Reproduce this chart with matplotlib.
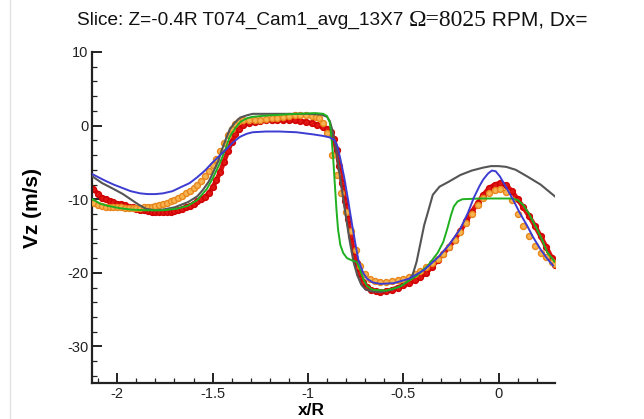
import numpy as np
import matplotlib
matplotlib.use("Agg")
import matplotlib.pyplot as plt
from matplotlib.ticker import MultipleLocator, FormatStrFormatter
from matplotlib.lines import Line2D

plt.rcParams['font.family'] = ['Liberation Sans', 'DejaVu Sans']
plt.rcParams['axes.unicode_minus'] = False

# ---- data ----
gray_x = [-2.13, -2.08, -2.02, -1.97, -1.93, -1.89, -1.85, -1.80, -1.76, -1.70, -1.63, -1.58, -1.55,
          -1.52, -1.50, -1.47, -1.45, -1.43, -1.41, -1.38, -1.355, -1.32, -1.29, -1.20, -1.10, -1.00,
          -0.93, -0.90, -0.885, -0.87, -0.855, -0.84, -0.82, -0.80, -0.78, -0.76, -0.74, -0.72, -0.70,
          -0.67, -0.62, -0.56, -0.50, -0.47, -0.45, -0.43, -0.41, -0.39, -0.37, -0.345, -0.31, -0.26,
          -0.20, -0.14, -0.08, -0.04, 0.00, 0.04, 0.09, 0.15, 0.22, 0.295]
gray_y = [-6.9, -7.8, -8.6, -9.3, -10.0, -10.7, -11.3, -11.5, -11.4, -11.1, -10.4, -9.6, -8.7,
          -7.6, -6.5, -4.8, -3.2, -1.8, -0.5, 0.5, 1.1, 1.4, 1.6, 1.6, 1.6, 1.6,
          1.5, 1.2, 0.6, -0.8, -2.8, -5.5, -9.0, -12.5, -15.8, -18.6, -20.4, -21.6, -22.2,
          -22.5, -22.6, -22.3, -21.6, -21.0, -20.2, -18.5, -16.0, -13.5, -11.7, -9.4, -8.3, -7.6,
          -6.7, -6.1, -5.7, -5.5, -5.5, -5.6, -6.0, -6.9, -8.0, -9.6]

blue_x = [-2.13, -2.07, -2.02, -1.97, -1.93, -1.88, -1.84, -1.80, -1.76, -1.71, -1.67, -1.62, -1.58,
          -1.54, -1.50, -1.46, -1.42, -1.39, -1.355, -1.32, -1.29, -1.22, -1.15, -1.06, -0.97, -0.92,
          -0.885, -0.86, -0.845, -0.83, -0.81, -0.79, -0.77, -0.75, -0.735, -0.71, -0.69, -0.66, -0.62,
          -0.55, -0.47, -0.39, -0.31, -0.26, -0.20, -0.16, -0.13, -0.10, -0.08, -0.055, -0.035, -0.015,
          0.007, 0.04, 0.075, 0.11, 0.15, 0.18, 0.22, 0.25, 0.285]
blue_y = [-6.6, -7.4, -8.0, -8.5, -8.9, -9.2, -9.3, -9.3, -9.2, -8.9, -8.4, -7.8, -7.0,
          -6.1, -5.0, -4.0, -3.0, -2.2, -1.5, -1.1, -0.9, -0.8, -0.8, -0.9, -1.2, -1.4,
          -1.6, -2.0, -2.8, -4.5, -7.0, -10.0, -13.2, -16.2, -18.3, -20.0, -20.8, -21.3, -21.5,
          -21.4, -20.8, -19.6, -17.7, -16.2, -14.0, -11.8, -9.8, -8.2, -7.3, -6.5, -6.1, -6.2,
          -6.9, -8.4, -10.0, -11.8, -13.6, -15.1, -16.8, -17.9, -19.0]

green_x = [-2.13, -2.09, -2.05, -1.99, -1.93, -1.85, -1.76, -1.69, -1.63, -1.58, -1.53, -1.50, -1.46,
           -1.43, -1.41, -1.38, -1.355, -1.32, -1.29, -1.20, -1.06, -0.96, -0.92, -0.90, -0.885, -0.875,
           -0.868, -0.86, -0.85, -0.842, -0.83, -0.815, -0.795, -0.77, -0.745, -0.73, -0.71, -0.69, -0.66,
           -0.59, -0.52, -0.43, -0.37, -0.32, -0.29, -0.27, -0.25, -0.235, -0.215, -0.19, -0.10, 0.00,
           0.07, 0.10, 0.13, 0.16, 0.20, 0.23, 0.255, 0.295]
green_y = [-10.0, -10.6, -10.9, -11.2, -11.4, -11.5, -11.5, -11.3, -10.9, -10.1, -8.6, -7.2, -5.0,
           -3.0, -1.5, -0.3, 0.5, 1.0, 1.2, 1.4, 1.6, 1.7, 1.6, 1.3, 0.4, -2.0,
           -4.2, -7.5, -11.5, -14.1, -16.2, -17.3, -18.0, -18.3, -18.5, -19.3, -20.8, -21.8, -22.3,
           -22.4, -21.9, -20.4, -19.0, -17.3, -15.8, -14.1, -12.2, -11.0, -10.3, -10.0, -9.9, -9.9,
           -9.9, -10.1, -10.8, -12.0, -14.0, -15.6, -17.2, -18.5]

red_x = [-2.125, -2.10, -2.08, -2.06, -2.04, -2.02, -2.00, -1.98, -1.96, -1.94, -1.92, -1.90, -1.88,
         -1.86, -1.84, -1.82, -1.80, -1.78, -1.76, -1.74, -1.72, -1.70, -1.68, -1.66, -1.64, -1.62,
         -1.60, -1.58, -1.56, -1.54, -1.52, -1.50, -1.48, -1.46, -1.44, -1.42, -1.40, -1.38, -1.36,
         -1.34, -1.31, -1.28, -1.25, -1.22, -1.19, -1.16, -1.13, -1.10, -1.07, -1.04, -1.01, -0.98,
         -0.95, -0.92, -0.90, -0.88, -0.865, -0.85, -0.835, -0.82, -0.805, -0.79, -0.775, -0.76, -0.745,
         -0.73, -0.71, -0.69, -0.67, -0.645, -0.62, -0.59, -0.56, -0.53, -0.50, -0.47, -0.44, -0.41,
         -0.38, -0.35, -0.32, -0.29, -0.26, -0.23, -0.20, -0.17, -0.14, -0.11, -0.08, -0.05, -0.02,
         0.01, 0.04, 0.07, 0.10, 0.13, 0.16, 0.19, 0.22, 0.25, 0.28, 0.295]
red_y = [-8.6, -9.3, -9.8, -10.0, -10.3, -10.4, -10.6, -10.7, -10.8, -11.0, -11.1, -11.3, -11.4,
         -11.5, -11.6, -11.7, -11.7, -11.7, -11.7, -11.7, -11.7, -11.6, -11.5, -11.3, -11.1, -10.9,
         -10.6, -10.3, -10.0, -9.7, -9.2, -8.4, -7.4, -6.3, -4.9, -3.5, -2.2, -1.2, -0.4,
         0.1, 0.4, 0.5, 0.6, 0.7, 0.8, 0.8, 0.8, 0.8, 0.7, 0.6, 0.5, 0.3,
         0.1, -0.2, -0.4, -0.9, -1.8, -3.3, -5.5, -7.8, -10.2, -12.7, -15.0, -17.0, -18.7,
         -20.0, -21.2, -21.9, -22.3, -22.5, -22.6, -22.5, -22.3, -22.0, -21.7, -21.4, -21.0, -20.6,
         -20.0, -19.2, -18.3, -17.4, -16.5, -15.5, -14.3, -13.0, -11.7, -10.5, -9.4, -8.5, -8.0,
         -7.8, -8.1, -8.9, -10.0, -11.1, -12.3, -13.6, -15.0, -16.5, -18.0, -18.9]

orange_x = [-2.12, -2.10, -2.08, -2.06, -2.04, -2.02, -2.00, -1.98, -1.96, -1.94, -1.92, -1.90, -1.88,
            -1.86, -1.84, -1.82, -1.80, -1.78, -1.76, -1.74, -1.72, -1.70, -1.68, -1.66, -1.64, -1.62,
            -1.60, -1.58, -1.56, -1.54, -1.52, -1.50, -1.48, -1.46, -1.44, -1.42, -1.40, -1.38, -1.36,
            -1.34, -1.31, -1.28, -1.25, -1.22, -1.19, -1.16, -1.13, -1.10, -1.07, -1.04, -1.01, -0.98,
            -0.96, -0.94, -0.92, -0.90, -0.875, -0.85, -0.825, -0.80, -0.775, -0.75, -0.725, -0.70, -0.675,
            -0.65, -0.62, -0.59, -0.56, -0.53, -0.50, -0.47, -0.44, -0.41, -0.38, -0.35, -0.32, -0.29,
            -0.26, -0.23, -0.20, -0.17, -0.14, -0.11, -0.08, -0.05, -0.02, 0.01, 0.04, 0.07, 0.10,
            0.13, 0.16, 0.19, 0.22, 0.25, 0.28, 0.295]
orange_y = [-10.5, -10.8, -10.9, -11.0, -11.0, -11.0, -11.1, -11.1, -11.2, -11.2, -11.2, -11.2, -11.2,
            -11.1, -11.1, -11.0, -10.9, -10.8, -10.7, -10.5, -10.3, -10.1, -9.8, -9.5, -9.2, -8.9,
            -8.5, -8.0, -7.5, -6.9, -6.2, -5.4, -4.5, -3.5, -2.4, -1.3, -0.4, 0.2, 0.6,
            0.8, 0.8, 0.7, 0.8, 0.9, 1.0, 1.1, 1.2, 1.3, 1.4, 1.4, 1.4, 1.3,
            1.2, 1.0, 0.4, -1.0, -4.0, -6.7, -9.2, -11.8, -14.3, -16.9, -19.0, -20.2, -20.9,
            -21.1, -21.2, -21.2, -21.1, -21.0, -20.8, -20.6, -20.2, -19.7, -19.2, -18.6, -18.1, -17.4,
            -16.5, -15.5, -14.4, -13.2, -12.0, -10.8, -9.8, -9.1, -8.7, -8.6, -9.0, -10.1, -12.0,
            -13.7, -15.0, -16.3, -17.3, -17.9, -18.5, -18.8]

x_ticks = [-2, -1.5, -1, -0.5, 0]
y_ticks = [10, 0, -10, -20, -30]

# ---- figure ----
W, H = 644, 419
fig = plt.figure(figsize=(W / 100, H / 100), dpi=100)
ax = fig.add_axes([92.3 / W, 1 - 383.3 / H, (555 - 92.3) / W, (383.3 - 52) / H])

ax.plot(red_x, red_y, color='#dd1010', lw=3.4, marker='o', ms=4.2, mec='#d00000', mfc='#e01515', zorder=2)
ax.plot(orange_x, orange_y, ls='none', marker='o', ms=4.3, mfc='#f7b451', mec='#e8861c', mew=1.0, zorder=3)
ax.plot(gray_x, gray_y, color='#555555', lw=1.5, zorder=4)
ax.plot(green_x, green_y, color='#1fb01f', lw=1.4, zorder=5)
ax.plot(blue_x, blue_y, color='#3c3cd2', lw=1.4, zorder=6)

ax.set_xlim(-2.131, 0.296)
ax.set_ylim(-35, 10)
ax.set_xticks(x_ticks)
ax.set_yticks(y_ticks)
ax.xaxis.set_minor_locator(MultipleLocator(0.1))
ax.yaxis.set_minor_locator(MultipleLocator(2))
ax.xaxis.set_major_formatter(FormatStrFormatter('%g'))

for s in ['top', 'right']:
    ax.spines[s].set_visible(False)
for s in ['left', 'bottom']:
    ax.spines[s].set_linewidth(1.6)
    ax.spines[s].set_color('#222222')

ax.tick_params(which='major', direction='in', length=7, width=1.4, labelsize=10.5, pad=3, colors='#222222')
ax.tick_params(which='minor', direction='in', length=3.5, width=0.9, colors='#222222')

ax.set_xlabel('x/R', fontsize=12.5, fontweight='bold')
ax.xaxis.set_label_coords((311 - 92.3) / (555 - 92.3), -0.058)
ax.set_ylabel('Vz (m/s)', fontsize=15, fontweight='bold')
ax.yaxis.set_label_coords(-0.108, 0.53)

# title made of pieces (Omega part is serif); the reference is cut at "Dx="
parts = [("Slice: Z=-0.4R T074_Cam1_avg_13X7 ", 'Liberation Sans', 13.7),
         ("\u03a9=8025", 'Liberation Serif', 17),
         (" RPM, Dx=", 'Liberation Sans', 15)]
renderer = fig.canvas.get_renderer()
xpos = 77 / W
for txt, fam, fs in parts:
    t = fig.text(xpos, 1 - 20 / H, txt, fontsize=fs, family=fam, va='center', ha='left', color='#111111')
    bb = t.get_window_extent(renderer=renderer)
    xpos += bb.width / W

fig.add_artist(Line2D([10 / W, 10 / W], [0, 1], color='#e2e2e2', lw=1.0))

fig.savefig('out.png', dpi=100)
